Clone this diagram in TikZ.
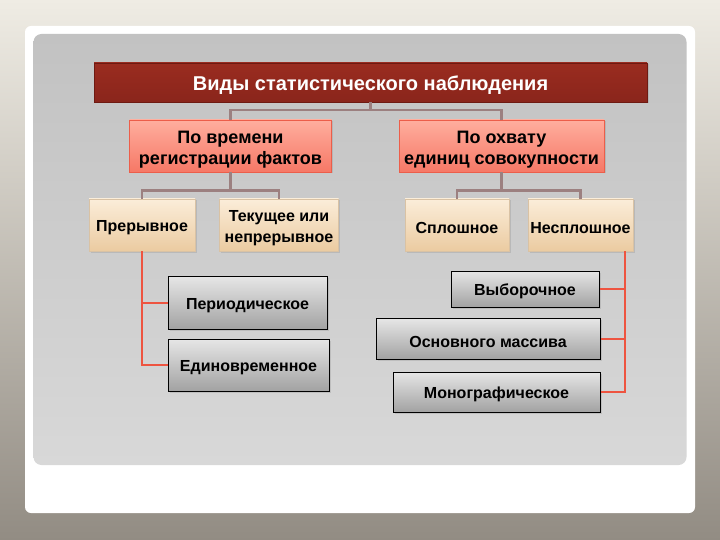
\documentclass[tikz,border=0pt]{standalone}
\usepackage{fontspec}
\setmainfont{Liberation Sans}
\usetikzlibrary{shadows}
\definecolor{bgtop}{HTML}{EFECE4}
\definecolor{bgbot}{HTML}{928C83}
\definecolor{paneltop}{HTML}{C2C2C2}
\definecolor{panelbot}{HTML}{D8D8D8}
\definecolor{ttltop}{HTML}{9A2C20}
\definecolor{ttlbot}{HTML}{8A251B}
\definecolor{ttlline}{HTML}{6E1A12}
\definecolor{salmtop}{HTML}{FFAE9E}
\definecolor{salmbot}{HTML}{F67866}
\definecolor{salmline}{HTML}{EC5E4A}
\definecolor{beigetop}{HTML}{FBEDD9}
\definecolor{beigebot}{HTML}{EBCBA1}
\definecolor{beigeline}{HTML}{D9C2A4}
\definecolor{graytop}{HTML}{E6E6E6}
\definecolor{graybot}{HTML}{A2A2A2}
\definecolor{mauve}{HTML}{9C8080}
\definecolor{redline}{HTML}{EE5440}
\newcommand{\sinkrule}[1]{\rule{0pt}{#1}}
\begin{document}
\begin{tikzpicture}[x=1pt,y=-1pt,
  sinkby/.style={execute at begin node={\rule{0pt}{#1}}},
  box/.style={rectangle, inner sep=0pt, align=center, text=black,
    drop shadow={opacity=0.25, shadow xshift=1.5pt, shadow yshift=-1.5pt}},
  ttl/.style={box, top color=ttltop, bottom color=ttlbot, draw=ttlline, line width=0.8pt,
    text=white, font=\bfseries\fontsize{20}{23}\selectfont, sinkby=19.5pt},
  lvltwo/.style={box, top color=salmtop, bottom color=salmbot, draw=salmline, line width=0.8pt,
    minimum height=52pt, font=\bfseries\fontsize{18}{21.5}\selectfont},
  lvlthree/.style={box, top color=beigetop, bottom color=beigebot, draw=beigeline, line width=0.8pt,
    minimum height=52pt, font=\bfseries\fontsize{16}{21}\selectfont},
  lvlfour/.style={box, top color=graytop, bottom color=graybot, draw=black, line width=1pt,
    font=\bfseries\fontsize{16}{19}\selectfont, sinkby=16.5pt},
  conn/.style={draw=mauve, line width=2.6pt},
  rconn/.style={draw=redline, line width=1.3pt}
]
\useasboundingbox (0,0) rectangle (720,540);
% background
\shade[top color=bgtop, bottom color=bgbot] (0,0) rectangle (720,540);
\fill[white, rounded corners=6pt] (25,26) rectangle (695,513);
\shade[top color=paneltop, bottom color=panelbot, rounded corners=8pt] (33.5,34) rectangle (686.5,465);

% nodes
\node[ttl, minimum width=553pt, minimum height=39pt] (t) at (370.5,82.5) {Виды статистического наблюдения};
\node[lvltwo, minimum width=202pt] (a) at (230.5,146) {\sinkrule{20pt}По времени\\регистрации фактов};
\node[lvltwo, minimum width=205pt] (b) at (501.5,146) {\sinkrule{20pt}По охвату\\единиц совокупности};
\node[lvlthree, minimum width=106pt, sinkby=16.5pt] (a1) at (142,225) {Прерывное};
\node[lvlthree, minimum width=119pt] (a2) at (279,225) {\sinkrule{18pt}Текущее или\\непрерывное};
\node[lvlthree, minimum width=104pt, sinkby=16.5pt] (b1) at (457,225) {Сплошное};
\node[lvlthree, minimum width=105pt, sinkby=16.5pt] (b2) at (580.5,225) {Несплошное};
\node[lvlfour, minimum width=159pt, minimum height=53pt] (p) at (247.5,303) {Периодическое};
\node[lvlfour, minimum width=161pt, minimum height=52pt] (e) at (248.5,365) {Единовременное};
\node[lvlfour, minimum width=148pt, minimum height=36pt] (v) at (525,289) {Выборочное};
\node[lvlfour, minimum width=224pt, minimum height=41pt] (o) at (488,339) {Основного массива};
\node[lvlfour, minimum width=207pt, minimum height=40pt] (m) at (496.5,392) {Монографическое};

% connectors
\draw[conn] (t.south) -- ++(0,7.5) -| (a.north);
\draw[conn] (t.south) -- ++(0,7.5) -| (b.north);
\draw[conn] (a.south) -- ++(0,18) -| (a1.north);
\draw[conn] (a.south) -- ++(0,18) -| (a2.north);
\draw[conn] (b.south) -- ++(0,18) -| (b1.north);
\draw[conn] (b.south) -- ++(0,18) -| (b2.north);
\draw[rconn] (a1.south) |- (p.west);
\draw[rconn] (a1.south) |- (e.west);
\draw[rconn] ([xshift=44.5pt]b2.south) |- (v.east);
\draw[rconn] ([xshift=44.5pt]b2.south) |- (o.east);
\draw[rconn] ([xshift=44.5pt]b2.south) |- (m.east);
\end{tikzpicture}
\end{document}
